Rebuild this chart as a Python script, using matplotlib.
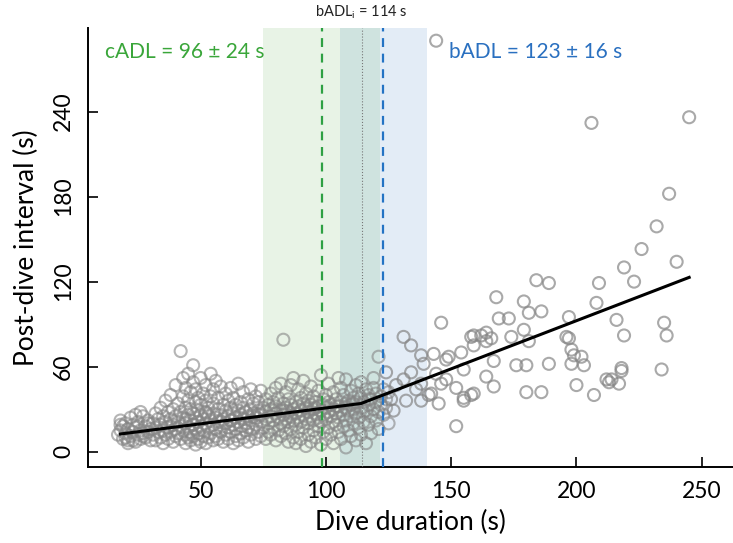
import matplotlib
matplotlib.use("Agg")
import matplotlib.pyplot as plt

plt.rcParams['font.family'] = ['Lato', 'DejaVu Sans']
plt.rcParams['mathtext.fontset'] = 'custom'
plt.rcParams['mathtext.rm'] = 'Lato'

# dense cluster of dives (duration s, post-dive interval s)
dense_dur = [17, 18, 18, 19, 19, 20, 20, 21, 21, 22, 22, 23, 23, 24, 24, 25, 25, 26, 26, 27,
             27, 28, 28, 29, 29, 30, 30, 18, 21, 24, 27, 20, 23, 26, 29,
             31, 31, 32, 32, 32, 33, 33, 34, 34, 34, 35, 35, 35, 36, 36, 36, 37, 37, 37, 38,
             38, 38, 39, 39, 39, 40, 40, 40, 40, 41, 41, 41, 42, 42, 42, 42, 43, 43, 43, 43,
             44, 44, 44, 44, 44, 45, 45, 45, 45, 45,
             46, 46, 46, 46, 46, 47, 47, 47, 47, 47, 48, 48, 48, 48, 48, 49, 49, 49, 49, 49,
             50, 50, 50, 50, 50, 51, 51, 51, 51, 52, 52, 52, 52, 52, 53, 53, 53, 53, 54, 54,
             54, 54, 55, 55, 55, 55, 55, 56, 56, 56, 56, 57, 57, 57, 57, 58, 58, 58, 59, 59,
             59, 59, 60, 60, 60, 60,
             61, 61, 61, 61, 62, 62, 62, 62, 63, 63, 63, 63, 64, 64, 64, 64, 65, 65, 65, 65,
             66, 66, 66, 66, 67, 67, 67, 67, 68, 68, 68, 69, 69, 69, 69, 70, 70, 70, 70, 71,
             71, 71, 72, 72, 72, 72, 73, 73, 73, 74, 74, 74, 74, 75, 75,
             76, 76, 76, 76, 77, 77, 77, 78, 78, 78, 78, 79, 79, 79, 80, 80, 80, 80, 81, 81,
             81, 82, 82, 82, 82, 83, 83, 83, 83, 84, 84, 84, 84, 85, 85, 85, 85, 86, 86, 86,
             86, 87, 87, 87, 87, 88, 88, 88, 88, 89, 89, 89, 89, 90, 90, 90, 90, 91, 91, 91,
             91, 92, 92, 92, 92, 93, 93, 93, 93, 94, 94, 94, 94, 95, 95, 95, 95, 96, 96, 96,
             97, 97, 97, 97, 98, 98, 98, 98, 99, 99, 99, 100, 100, 100, 100,
             101, 101, 101, 101, 102, 102, 102, 103, 103, 103, 103, 104, 104, 104, 105, 105,
             105, 105, 106, 106, 106, 106, 107, 107, 107, 108, 108, 108, 108, 109, 109, 109,
             110, 110, 110, 110, 111, 111, 111, 112, 112, 112, 112, 113, 113, 113, 114, 114,
             114, 114, 115, 115, 115, 116, 116, 116, 117, 117, 117, 118, 118, 118, 119, 119,
             119, 120, 120, 120, 121, 121, 121, 122, 122, 123, 123, 124, 124, 125, 125,
             44, 52, 58, 66, 73, 79, 86, 93, 99, 104, 111, 117, 38, 47, 62, 71, 83, 96, 108]
dense_pdi = [12, 15, 22, 9, 18, 13, 20, 8, 16, 11, 24, 14, 19, 7, 17, 12, 21, 9, 15, 13,
             25, 10, 18, 14, 22, 8, 16, 19, 6, 26, 11, 10, 8, 28, 20,
             12, 20, 8, 17, 27, 14, 23, 10, 19, 31, 6, 15, 25, 12, 21, 36, 9, 17, 28, 14,
             23, 40, 7, 19, 30, 11, 16, 25, 47, 13, 21, 34, 9, 18, 28, 71, 15, 24, 39, 52,
             6, 12, 20, 31, 45, 10, 17, 26, 36, 55,
             8, 14, 22, 30, 42, 11, 19, 27, 61, 49, 5, 16, 24, 35, 44, 9, 13, 21, 29, 38,
             7, 18, 26, 33, 52, 11, 15, 23, 41, 6, 20, 28, 36, 47, 10, 17, 25, 31, 13, 22,
             39, 55, 8, 19, 27, 34, 44, 11, 16, 24, 50, 9, 21, 30, 38, 14, 26, 46, 7, 18,
             23, 33, 12, 20, 29, 41,
             9, 17, 25, 36, 14, 22, 31, 45, 6, 19, 27, 38, 11, 16, 24, 33, 8, 21, 29, 48,
             13, 18, 26, 35, 10, 23, 31, 42, 15, 20, 28, 7, 17, 25, 37, 12, 22, 30, 44, 16,
             27, 34, 9, 19, 24, 39, 14, 29, 35, 11, 21, 26, 43, 17, 31,
             9, 23, 28, 37, 14, 20, 33, 12, 25, 30, 41, 17, 22, 35, 8, 27, 32, 45, 15, 24,
             38, 11, 20, 29, 48, 18, 26, 34, 79, 13, 23, 31, 42, 7, 21, 28, 37, 16, 25, 33,
             47, 10, 22, 30, 52, 6, 19, 27, 35, 14, 24, 32, 44, 9, 21, 29, 38, 17, 26, 34,
             50, 4, 23, 31, 41, 12, 20, 28, 36, 7, 25, 33, 46, 15, 22, 30, 39, 10, 27, 35,
             18, 24, 32, 43, 5, 21, 29, 54, 14, 26, 37, 9, 23, 31, 40,
             17, 28, 35, 48, 12, 25, 33, 6, 21, 30, 42, 19, 27, 37, 14, 24,
             32, 52, 9, 29, 35, 45, 18, 26, 40, 3, 22, 31, 51, 15, 29, 36,
             11, 25, 33, 43, 20, 30, 38, 8, 27, 35, 47, 17, 24, 41, 12, 31,
             38, 49, 21, 28, 35, 6, 29, 44, 19, 33, 40, 13, 25, 37, 30, 45,
             52, 22, 35, 41, 16, 28, 67, 33, 39, 26, 44, 31, 37, 20, 42,
             23, 27, 21, 24, 26, 29, 27, 30, 33, 32, 34, 37, 18, 19, 22, 25, 29, 31, 34]

# longer dives, scattered points
sparse_dur = [124, 126, 127, 131, 131, 132, 134, 134, 138, 138, 138, 139, 142, 143, 144,
              144, 145, 146, 146, 148, 148, 152, 152, 155, 155, 158, 159, 159, 164, 164,
              166, 167, 167, 168, 169, 173, 174, 176, 179, 179, 180, 180, 181, 181, 184,
              186, 186, 189, 189, 197, 197, 198, 198, 199, 200, 202, 203, 206, 207, 208,
              209, 212, 216, 217, 218, 219, 219, 223, 226, 232, 234, 235, 236, 237, 240,
              245, 213, 154, 158, 162, 164, 149, 155, 159, 196, 214, 218, 128, 136, 141]
sparse_pdi = [56, 37, 29, 51, 81, 36, 75, 56, 68, 48, 36, 62, 41, 69, 55,
              290, 34, 91, 48, 65, 51, 45, 18, 58, 36, 40, 82, 75, 84, 53,
              80, 64, 46, 109, 94, 94, 81, 61, 106, 86, 61, 42, 98, 78, 121,
              99, 42, 119, 62, 95, 80, 72, 62, 68, 47, 67, 61, 232, 40, 105,
              119, 51, 93, 48, 59, 82, 130, 120, 143, 159, 58, 91, 82, 182, 134,
              236, 49, 70, 81, 82, 78, 67, 38, 41, 81, 51, 57, 47, 44, 40]

# piecewise fit
fit_dur = [18, 114, 245]
fit_pdi = [12.5, 34, 123]

# ADL estimates as drawn
cadl_band = (75, 121.5)
badl_band = (105.5, 140.5)
cadl_line = 98.5
badl_line = 122.8
badli_line = 114.2

fig = plt.figure(figsize=(7.33, 5.43), dpi=100)
ax = fig.add_axes([0.12, 0.1405, 0.88, 0.8075])

ax.axvspan(cadl_band[0], badl_band[0], color='#e8f3e6', lw=0, zorder=0)
ax.axvspan(badl_band[0], cadl_band[1], color='#cfe3df', lw=0, zorder=0)
ax.axvspan(cadl_band[1], badl_band[1], color='#e3ecf6', lw=0, zorder=0)

ax.scatter(dense_dur, dense_pdi, s=75, facecolors='none', edgecolors='#858585',
           linewidths=1.5, alpha=0.6, zorder=2)
ax.scatter(sparse_dur, sparse_pdi, s=75, facecolors='none', edgecolors='#858585',
           linewidths=1.5, alpha=0.7, zorder=2)

ax.axvline(cadl_line, color='#2ea043', ls=(0, (4, 3)), lw=1.6, zorder=3)
ax.axvline(badl_line, color='#2473c4', ls=(0, (4, 3)), lw=1.6, zorder=3)
ax.axvline(badli_line, color='#777777', ls=':', lw=0.8, zorder=3)

ax.plot(fit_dur, fit_pdi, color='black', lw=2.2, zorder=4)

ax.text(12, 282, 'cADL = 96 \u00b1 24 s', color='#3aa63a', fontsize=15, va='center')
ax.text(149, 282, 'bADL = 123 \u00b1 16 s', color='#2a70c0', fontsize=15, va='center')
ax.text(badli_line, 310, r'bADL$_\mathrm{i}$ = 114 s', color='#222222', fontsize=10.5,
        ha='center', va='center')

ax.set_xlim(5, 262.5)
ax.set_ylim(-10.6, 298.8)
ax.set_xticks([50, 100, 150, 200, 250])
ax.set_yticks([0, 60, 120, 180, 240])
for lab in ax.get_yticklabels():
    lab.set_rotation(90)
    lab.set_va('center')
ax.tick_params(direction='in', length=7, width=1.2, labelsize=16.5, pad=10)
ax.spines['top'].set_visible(False)
ax.spines['right'].set_visible(False)
ax.spines['left'].set_linewidth(1.4)
ax.spines['bottom'].set_linewidth(1.4)
ax.set_xlabel('Dive duration (s)', fontsize=19, labelpad=6)
ax.set_ylabel('Post-dive interval (s)', fontsize=19, labelpad=10)

fig.savefig('out.png', dpi=100)
